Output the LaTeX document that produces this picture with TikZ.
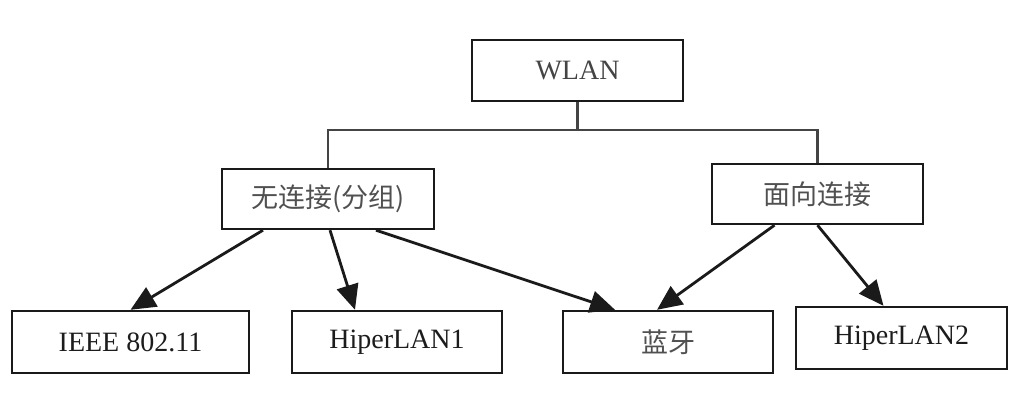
\documentclass[tikz,border=0pt]{standalone}
\usepackage{fontspec}
\setmainfont{Liberation Serif}
\newfontfamily\cjk{Noto Sans CJK SC}
\usetikzlibrary{arrows.meta}
\definecolor{boxline}{HTML}{1A1A1A}
\definecolor{treeline}{HTML}{444444}
\definecolor{latintext}{HTML}{1C1C1C}
\definecolor{cjktext}{HTML}{505050}
\tikzset{
  tbox/.style={draw=boxline, line width=2.4pt, rectangle, inner sep=0pt,
    minimum height=61pt, font=\fontsize{28}{32}\selectfont, text=latintext},
  cbox/.style={tbox, font=\cjk\fontsize{27}{32}\selectfont, text=cjktext},
  treelink/.style={draw=treeline, line width=2.4pt},
  arrowlink/.style={draw=boxline, line width=2.8pt, -{Triangle[length=25pt,width=22pt]}}
}
\begin{document}
\begin{tikzpicture}[x=1pt,y=-1pt]
\useasboundingbox (0,0) rectangle (1021,406);
\node[tbox, minimum width=211pt, text=treeline] (wlan) at (577.5,70.5) {WLAN};
\node[cbox, minimum width=212pt, minimum height=60pt] (cl) at (328,199) {无连接(分组)};
\node[cbox, minimum width=211pt, minimum height=60pt] (co) at (817.5,194) {面向连接};
\node[tbox, minimum width=237pt, minimum height=62pt] (ieee) at (130.5,342) {IEEE 802.11};
\node[tbox, minimum width=210pt, minimum height=62pt] (h1) at (397,342) {HiperLAN1};
\node[cbox, minimum width=210pt, minimum height=62pt] (bt) at (668,342) {蓝牙};
\node[tbox, minimum width=211pt, minimum height=62pt] (h2) at (901.5,338) {HiperLAN2};
\coordinate (j) at (577.5,130);
\draw[treelink] (wlan.south) -- (j);
\draw[treelink] (cl.north) |- (j) -| (co.north);
\draw[arrowlink] ([xshift=-65pt]cl.south) -- (ieee.north);
\draw[arrowlink] ([xshift=2pt]cl.south) -- ([xshift=-42pt]h1.north);
\draw[arrowlink] ([xshift=48pt]cl.south) -- ([xshift=-53pt]bt.north);
\draw[arrowlink] ([xshift=-43pt]co.south) -- ([xshift=-11pt]bt.north);
\draw[arrowlink] (co.south) -- ([xshift=-18pt]h2.north);
\end{tikzpicture}
\end{document}
